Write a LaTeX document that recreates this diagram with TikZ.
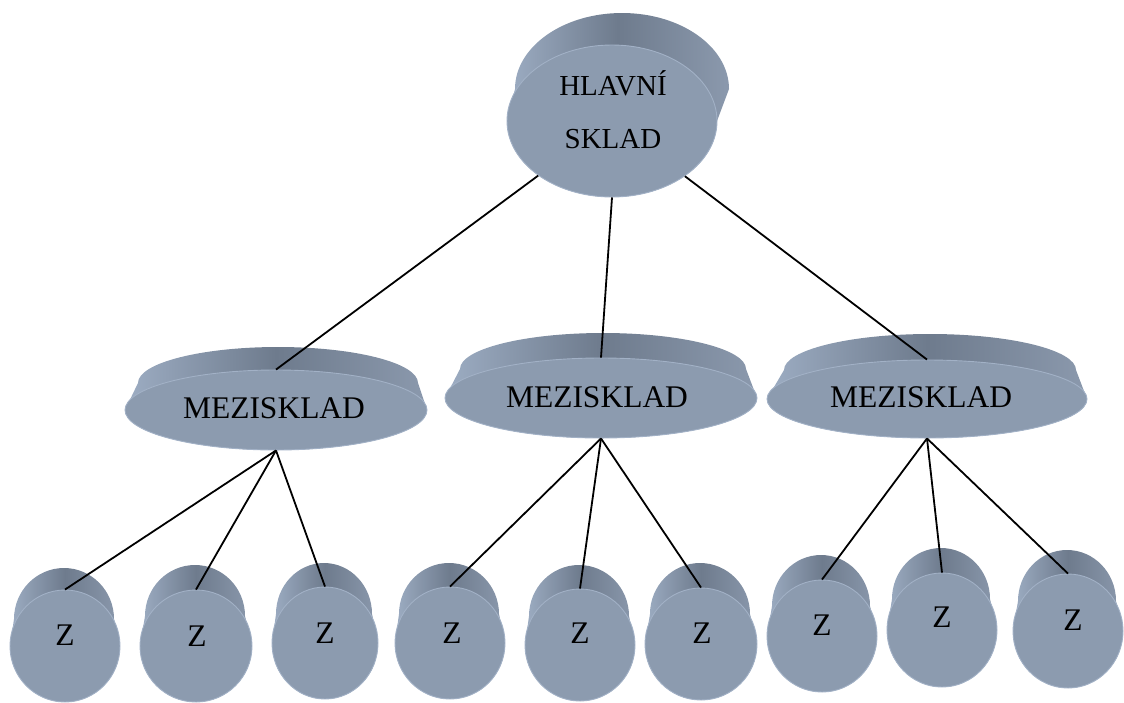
\documentclass[tikz,border=0pt]{standalone}
\usepackage{fontspec}
\setmainfont{Liberation Serif}
\usetikzlibrary{shapes.geometric}

\definecolor{facecol}{HTML}{8C9BAF}
\definecolor{rimcol}{HTML}{A2B1C6}
\definecolor{sidelight}{HTML}{9DADC3}
\definecolor{sidedark}{HTML}{6E7B8D}
\definecolor{sidemid}{HTML}{8B99AD}

\tikzset{
  face/.style={ellipse, fill=facecol, draw=rimcol, line width=0.9pt, inner sep=0pt},
  lbl/.style={font=\fontsize{31.5}{38}\selectfont, inner sep=0pt},
  link/.style={line width=1.8pt, black},
}

% #1 name, #2,#3 front centre, #4,#5 front radii,
% #6,#7 back centre, #8,#9 back radii  (y axis points down)
\newcommand\storedisc[9]{%
  \shade[left color=sidelight, right color=sidemid, middle color=sidedark]
    ({#6-#8},#7) arc[start angle=180, end angle=360, x radius=#8, y radius=#9]
    -- ({#2+#4},#3) arc[start angle=0, end angle=180, x radius=#4, y radius=#5]
    -- cycle;
  \node[face, minimum width={2*#4pt}, minimum height={2*#5pt}] (#1) at (#2,#3) {};
}

\begin{document}
\begin{tikzpicture}[x=1pt, y=-1pt]
\useasboundingbox (0,0) rectangle (1124,702);

% main store
\storedisc{top}{612}{121}{105}{76}{622}{89}{107}{76}

% intermediate stores
\storedisc{m1}{276}{410}{151}{40}{278}{383}{140}{36}
\storedisc{m2}{601}{398}{156}{40}{603}{369}{143}{36}
\storedisc{m3}{927}{399}{160}{39}{930}{370}{146}{36}

% end stores
\storedisc{z1}{65}{646}{55}{56}{64}{619}{50}{51}
\storedisc{z2}{196}{646}{56}{56}{195}{616}{50}{51}
\storedisc{z3}{325}{643}{53}{56}{324}{614}{48}{51}
\storedisc{z4}{450}{643}{55}{56}{449}{614}{50}{51}
\storedisc{z5}{580}{645}{55}{56}{579}{616}{50}{51}
\storedisc{z6}{701}{644}{56}{56}{700}{614}{50}{51}
\storedisc{z7}{822}{636}{55}{56}{821}{606}{49}{51}
\storedisc{z8}{942}{630}{55}{57}{941}{599}{49}{51}
\storedisc{z9}{1068}{631}{55}{57}{1067}{601}{49}{51}

% labels
\node[lbl, align=center, font=\fontsize{29}{53}\selectfont] (ttop) at (613,110) {HLAVNÍ\\SKLAD};
\node[lbl] (tm1) at (274,408) {MEZISKLAD};
\node[lbl] (tm2) at (597,397) {MEZISKLAD};
\node[lbl] (tm3) at (921,397) {MEZISKLAD};
\node[lbl] (tz1) at (65,635) {Z};
\node[lbl] (tz2) at (197,636) {Z};
\node[lbl] (tz3) at (325,633) {Z};
\node[lbl] (tz4) at (452,633) {Z};
\node[lbl] (tz5) at (580,633) {Z};
\node[lbl] (tz6) at (702,633) {Z};
\node[lbl] (tz7) at (822,625) {Z};
\node[lbl] (tz8) at (942,617) {Z};
\node[lbl] (tz9) at (1073,620) {Z};

% connections
\draw[link] (top) -- (m1.north);
\draw[link] (top.south) -- (m2.north);
\draw[link] (top) -- (m3.north);

\draw[link] (m1.south) -- (z1.north);
\draw[link] (m1.south) -- (z2.north);
\draw[link] (m1.south) -- (z3.north);
\draw[link] (m2.south) -- (z4.north);
\draw[link] (m2.south) -- (z5.north);
\draw[link] (m2.south) -- (z6.north);
\draw[link] (m3.south) -- (z7.north);
\draw[link] (m3.south) -- (z8.north);
\draw[link] (m3.south) -- (z9.north);
\end{tikzpicture}
\end{document}
